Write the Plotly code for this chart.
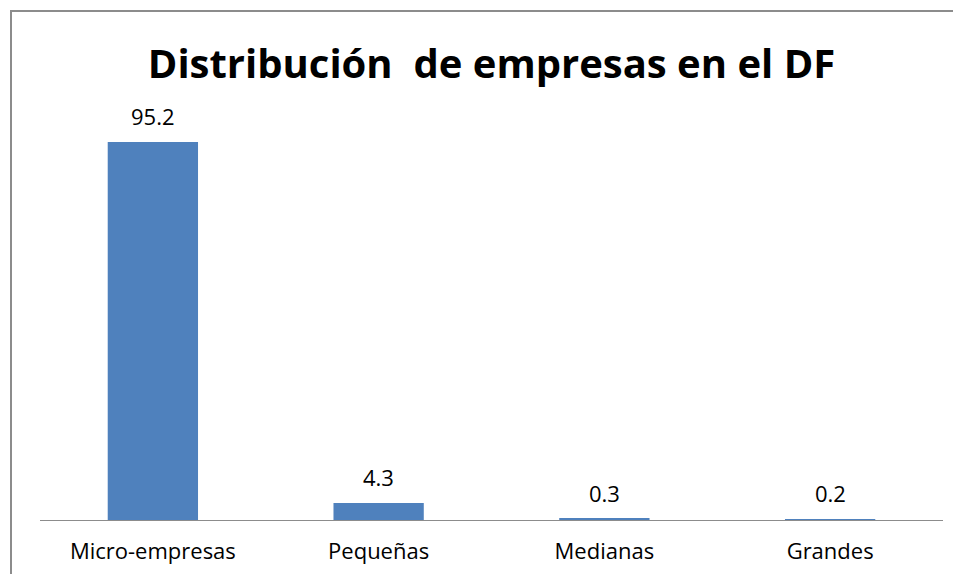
import plotly.graph_objects as go

categories = ["Micro-empresas", "Pequeñas", "Medianas", "Grandes"]
values = [95.2, 4.3, 0.3, 0.2]

# page body adds an 8px offset, so the figure is sized to fit inside it
W, H = 945, 566
left, right, top, bottom = 32, 10, 115, 54
pw = W - left - right
ph = H - top - bottom

fig = go.Figure()
fig.add_trace(
    go.Bar(
        x=categories,
        y=values,
        marker=dict(color="#4F81BD", line=dict(width=0)),
    )
)

# value labels above the bars
for cat, v in zip(categories, values):
    fig.add_annotation(
        x=cat,
        y=v,
        text=f"{v:.1f}",
        showarrow=False,
        yanchor="bottom",
        yshift=9,
        font=dict(family="Open Sans", size=22, color="#000000"),
    )

# chart border (cropped on the right/bottom like the reference)
fig.add_shape(
    type="rect",
    xref="paper",
    yref="paper",
    x0=(3 - left) / pw,
    x1=(W + 20 - left) / pw,
    y0=-(bottom + 20) / ph,
    y1=(ph + top - 3) / ph,
    line=dict(color="#8C8C8C", width=2),
    fillcolor="rgba(0,0,0,0)",
)

fig.update_layout(
    width=W,
    height=H,
    margin=dict(l=left, r=right, t=top, b=bottom),
    paper_bgcolor="white",
    plot_bgcolor="white",
    showlegend=False,
    bargap=0.6,
    title=dict(
        text="<b>Distribución  de empresas en el DF</b>",
        x=0.5,
        xanchor="center",
        xref="paper",
        y=1 - 56 / H,
        yanchor="middle",
        font=dict(family="Open Sans", size=40, color="#000000"),
    ),
    font=dict(family="Open Sans", color="#000000"),
)
fig.update_xaxes(
    showline=True,
    linecolor="#8C8C8C",
    linewidth=1,
    ticks="",
    ticklabelstandoff=12,
    tickfont=dict(family="Open Sans", size=22, color="#000000"),
    showgrid=False,
)
fig.update_yaxes(
    range=[0, 100],
    visible=False,
    showgrid=False,
    zeroline=False,
)

fig.write_html("out.html")
